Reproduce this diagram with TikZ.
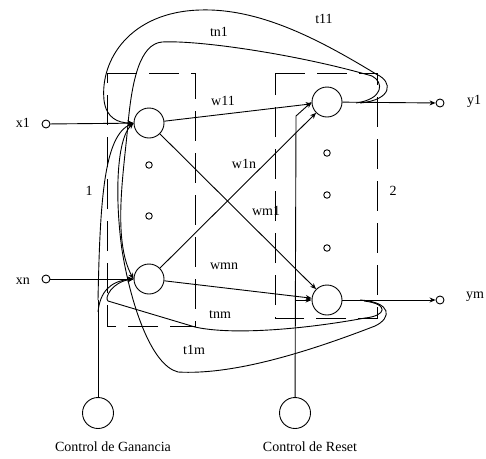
\documentclass[tikz,border=0pt]{standalone}
\usepackage{fontspec}
\setmainfont{Liberation Serif}
\usetikzlibrary{arrows.meta}
\tikzset{
  neuron/.style={circle,draw,minimum size=30pt,inner sep=0pt},
  ctrl/.style={circle,draw,minimum size=31pt,inner sep=0pt},
  term/.style={circle,draw,minimum size=8pt,inner sep=0pt},
  dotc/.style={circle,draw,minimum size=6.5pt,inner sep=0pt},
  lbl/.style={inner sep=0pt,font=\fontsize{14}{16}\selectfont},
  arr/.style={-{Stealth[length=6pt,width=5pt]}},
  boxd/.style={dash pattern=on 30pt off 12pt},
}
\begin{document}
\begin{tikzpicture}[x=1pt,y=-1pt,line width=0.9pt]
\useasboundingbox (0,0) rectangle (486,458);
% dashed boxes
\draw[boxd] (107,73) -- (195,73) -- (195,326) -- (107,326) -- cycle;
\draw[boxd] (275,73) -- (377,73) -- (377,318) -- (275,318) -- cycle;
% neurons
\node[neuron] (n11) at (149,123) {};
\node[neuron] (n1n) at (149,279) {};
\node[neuron] (n21) at (327,102) {};
\node[neuron] (n2m) at (327,300) {};
\node[ctrl] (cg) at (98,413) {};
\node[ctrl] (cr) at (295,413) {};
% terminals
\node[term] (ix1) at (46,124) {};
\node[term] (ixn) at (46,279) {};
\node[term] (oy1) at (440,103) {};
\node[term] (oym) at (440,300) {};
% dots
\node[dotc] (d1) at (149,165) {};
\node[dotc] (d2) at (149,216) {};
\node[dotc] (d3) at (327,153) {};
\node[dotc] (d4) at (327,195) {};
\node[dotc] (d5) at (327,248) {};
% labels
\node[lbl] (lx1) at (23,123) {x1};
\node[lbl] (lxn) at (23,281) {xn};
\node[lbl] (ly1) at (474,101) {y1};
\node[lbl] (lym) at (475,297) {ym};
\node[lbl] (lw11) at (223,101) {w11};
\node[lbl] (lw1n) at (244,164) {w1n};
\node[lbl] (lwm1) at (266,211) {wm1};
\node[lbl] (lwmn) at (224,266) {wmn};
\node[lbl] (ltn1) at (219,32) {tn1};
\node[lbl] (lt11) at (324,19) {t11};
\node[lbl] (ltnm) at (220,315) {tnm};
\node[lbl] (lt1m) at (194,350) {t1m};
\node[lbl] (l1) at (89,191) {1};
\node[lbl] (l2) at (393,191) {2};
\node[lbl] (lcg) at (113,447) {Control de Ganancia};
\node[lbl] (lcr) at (310,447) {Control de Reset};
% inputs and outputs
\draw[arr] (ix1) -- (n11);
\draw[arr] (ixn) -- (n1n);
\draw[arr] (n21) -- (oy1);
\draw[arr] (n2m) -- (oym);
% weights
\draw[arr] (n11) -- (n21);
\draw[arr] (n11) -- (n2m);
\draw[arr] (n1n) -- (n21);
\draw[arr] (n1n) -- (n2m);
% control lines
\coordinate (r1) at (296,116);
\coordinate (r2) at (296,300);
\draw[arr] (cr) -- (r1) -- (n21.west);
\draw[arr] (r2) -- (n2m.west);
\coordinate (g1) at (98,300);
\coordinate (g2) at (98,312);
\draw (cg) -- (g1);
\draw[arr] (g1) .. controls (100,200) and (104,136) .. (n11.west);
\draw[arr] (g2) .. controls (100,292) and (110,281) .. (n1n.west);
% feedback t11
\coordinate (s11) at (360,103);
\draw[arr] (s11) .. controls (392,100) and (394,82) .. (376,74)
  .. controls (320,40) and (260,8) .. (200,10)
  .. controls (130,12) and (100,60) .. (104,100)
  .. controls (106,118) and (118,123) .. (n11.west);
% feedback tn1
\coordinate (sn1) at (356,103);
\draw[arr] (sn1) .. controls (384,99) and (384,82) .. (372,76)
  .. controls (300,55) and (200,40) .. (162,42)
  .. controls (140,44) and (132,80) .. (128,124)
  .. controls (124,170) and (112,240) .. (n1n.west);
% feedback t1m
\coordinate (s1m) at (360,300);
\draw[arr] (s1m) .. controls (392,302) and (392,318) .. (375,326)
  .. controls (300,355) and (230,375) .. (178,372)
  .. controls (150,365) and (130,300) .. (122,250)
  .. controls (115,200) and (116,140) .. (n11.west);
% feedback tnm
\coordinate (snm) at (364,301);
\draw[arr] (snm) .. controls (390,304) and (386,316) .. (365,318)
  .. controls (300,330) and (230,335) .. (195,327)
  -- (108,301) .. controls (104,298) and (112,282) .. (n1n.west);
\end{tikzpicture}
\end{document}
